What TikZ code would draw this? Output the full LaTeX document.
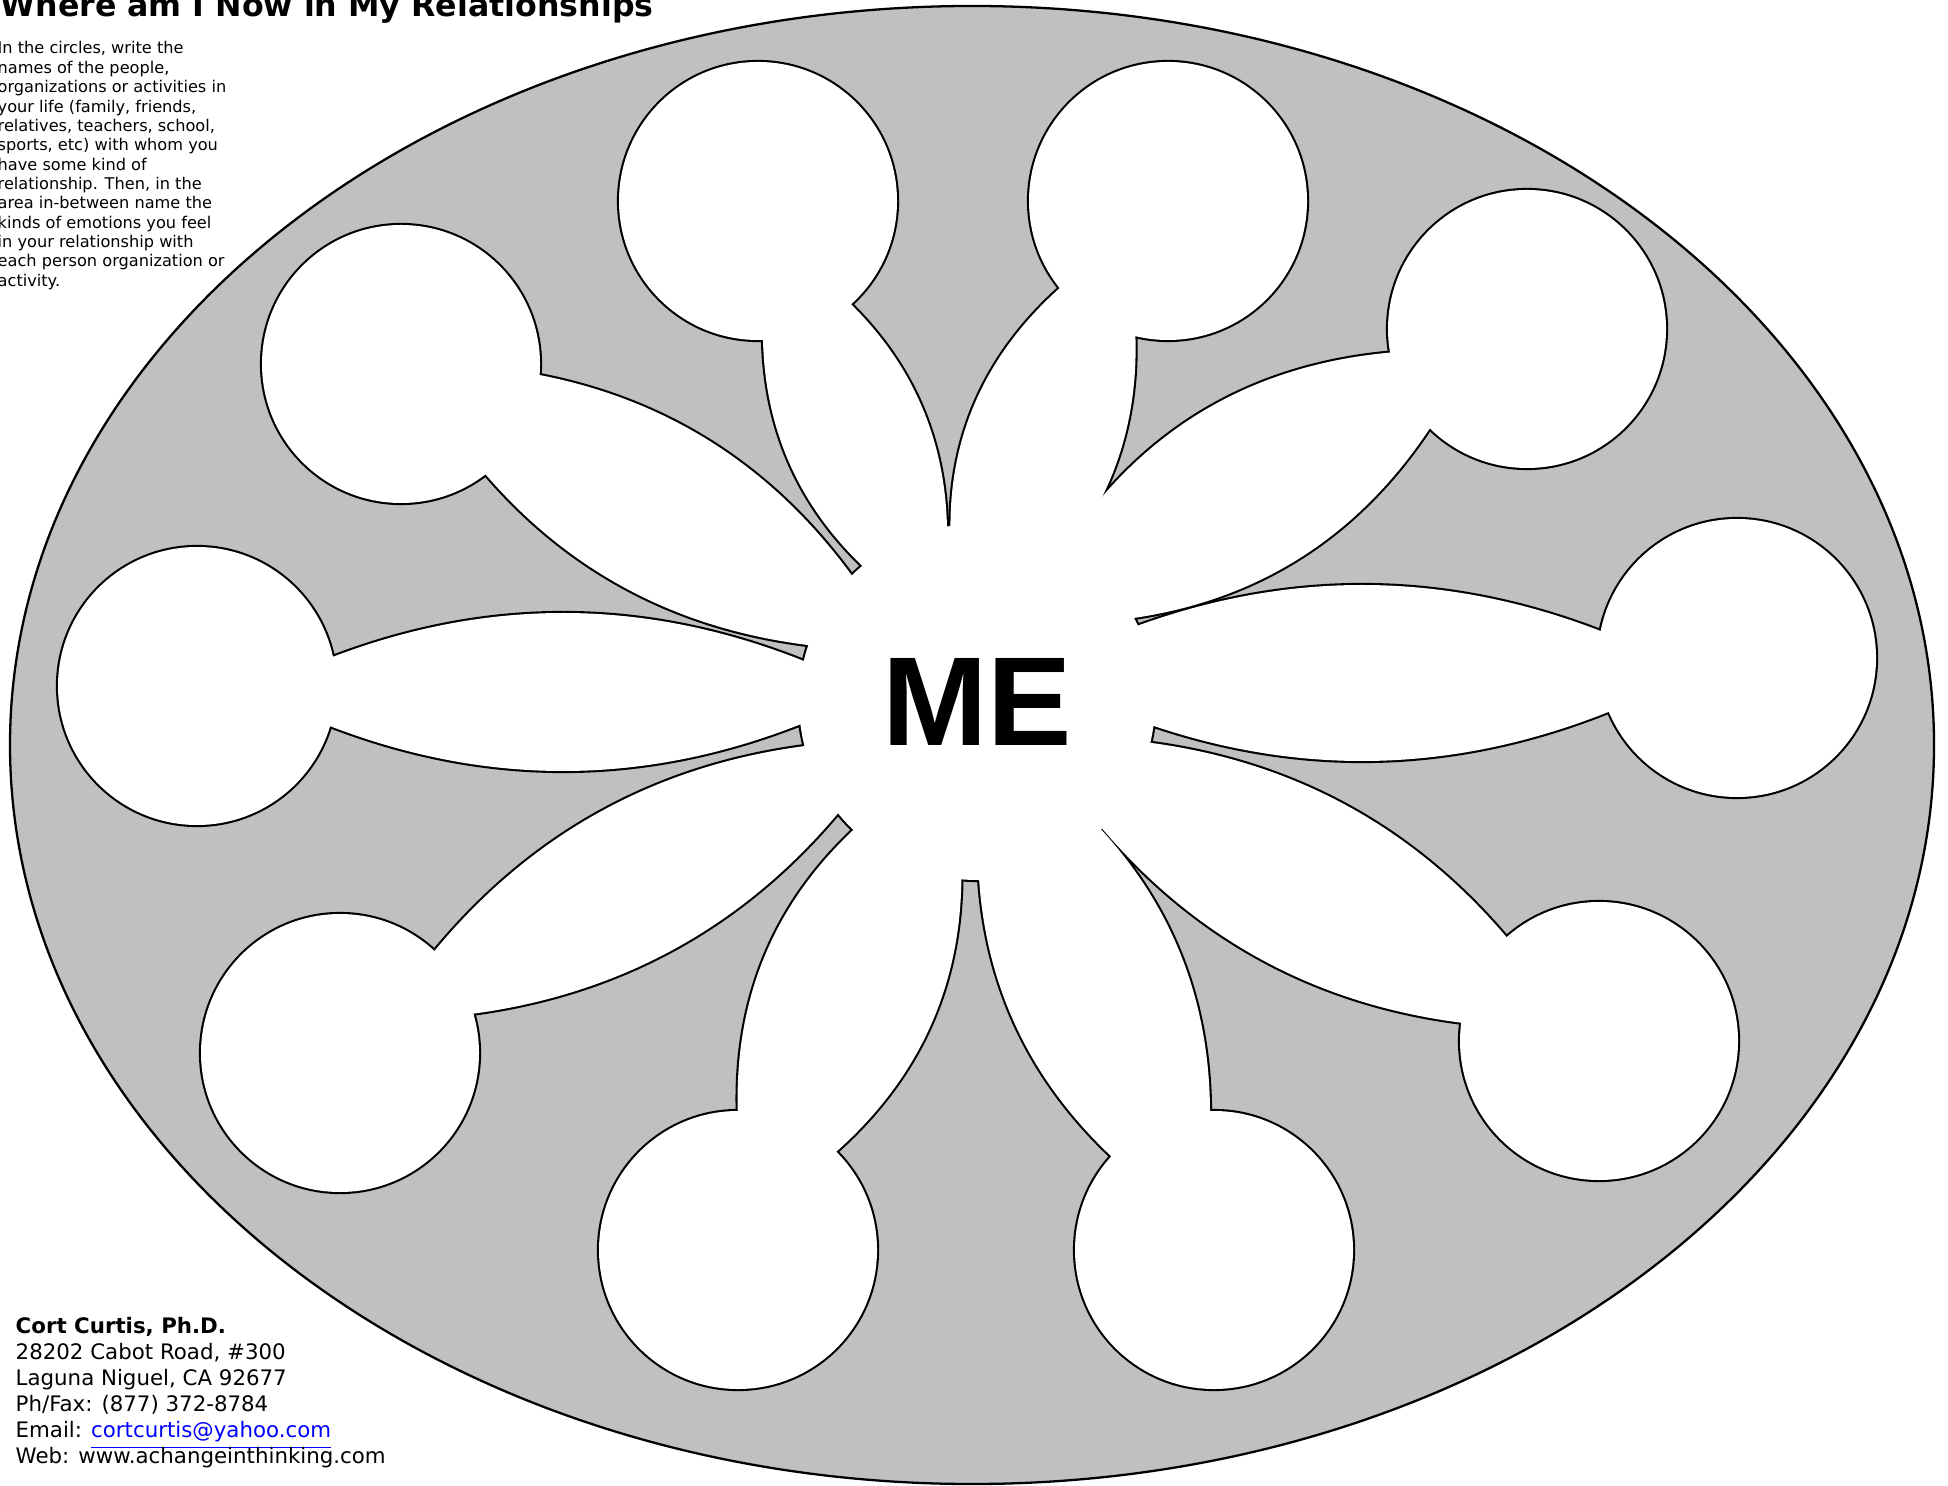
\documentclass[tikz,border=0pt]{standalone}
\usepackage{fontspec}
\usepackage{xcolor}
\usepackage{tikz}
\newfontfamily\sheetfont{DejaVu Sans}
\newfontfamily\mefont{Liberation Sans}
\definecolor{sheetgray}{RGB}{192,192,192}
\tikzset{
  ovalbg/.style   = {fill=sheetgray, draw=black, line width=0.65pt},
  blobedge/.style = {draw=black, line width=1.2pt},
  blobfill/.style = {fill=white},
  smalltxt/.style = {font=\sheetfont\fontsize{4.6}{5.51}\selectfont, align=left, inner sep=0pt},
  addrtxt/.style  = {font=\sheetfont\fontsize{6.07}{7.4}\selectfont, align=left, inner sep=0pt}
}
% circle centre / outer and inner end of its stem / stem half widths (left, right
% of the stem seen from its outer end); y counted from the bottom edge
\def\petallist{758/1284/772/1242/938/861/72/72, 1168/1284/1122/1244/968/840/74/80,
  401/1121/410/1121/899/835/85/85, 1527/1156/1473/1134/1022/862/88/88,
  197/799/254/793/872/793/79/79, 1737/827/1692/812/1032/812/88/88,
  340/432/384/465/892/745/78/78, 1599/444/1572/457/1036/748/88/88,
  738/235/751/272/948/725/90/90, 1214/235/1199/261/989/748/90/90}

\begin{document}
\begin{tikzpicture}[x=0.1mm,y=0.1mm]
  \useasboundingbox (0,0) rectangle (1948,1485);
  \coordinate (hub) at (977,783);
  \draw[ovalbg] (972,740) ellipse [x radius=962, y radius=739];
  % outline everything first, then paint white over it: only the outer edge stays
  \foreach \pass in {blobedge,blobfill}{
    \foreach \cx/\cy/\px/\py/\qx/\qy/\hl/\hr in \petallist {
      \pgfmathsetmacro\ang{atan2(\qy-\py,\qx-\px)}
      \pgfmathsetmacro\len{veclen(\qx-\px,\qy-\py)}
      \path[\pass] (\cx,\cy) circle [radius=139];
      % stem: a pointed lens made of two parabolic arcs
      \begin{scope}[shift={(\px,\py)}, rotate=\ang]
        \path[\pass] (0,0) .. controls ({\len/3},{4*\hl/3}) and ({2*\len/3},{4*\hl/3}) .. (\len,0)
                           .. controls ({2*\len/3},{-4*\hr/3}) and ({\len/3},{-4*\hr/3}) .. cycle;
      \end{scope}
    }
    \path[\pass] (hub) circle [radius=178];
  }
  \node[font=\mefont\bfseries\fontsize{36}{40}\selectfont, inner sep=0pt] (me) at (hub) {ME};
  \node[anchor=base west, inner sep=0pt, font=\sheetfont\bfseries\fontsize{9}{10}\selectfont]
       (title) at (0,1468) {Where am I Now in My Relationships};
  \node[smalltxt, anchor=north west] (howto) at (-3,1444)
       {In the circles, write the\\names of the people,\\organizations or activities in\\your life (family, friends,\\relatives, teachers, school,\\sports, etc) with whom you\\have some kind of\\relationship. Then, in the\\area in-between name the\\kinds of emotions you feel\\in your relationship with\\each person organization or\\activity.};
  \node[addrtxt, anchor=north west] (contact) at (15,168)
       {\textbf{Cort Curtis, Ph.D.}\\28202 Cabot Road, \#300\\Laguna Niguel, CA 92677\\Ph/Fax: (877) 372-8784\\Email: \textcolor{blue}{\smash{\underline{cortcurtis@yahoo.com}}}\\Web: www.achangeinthinking.com};
\end{tikzpicture}
\end{document}
